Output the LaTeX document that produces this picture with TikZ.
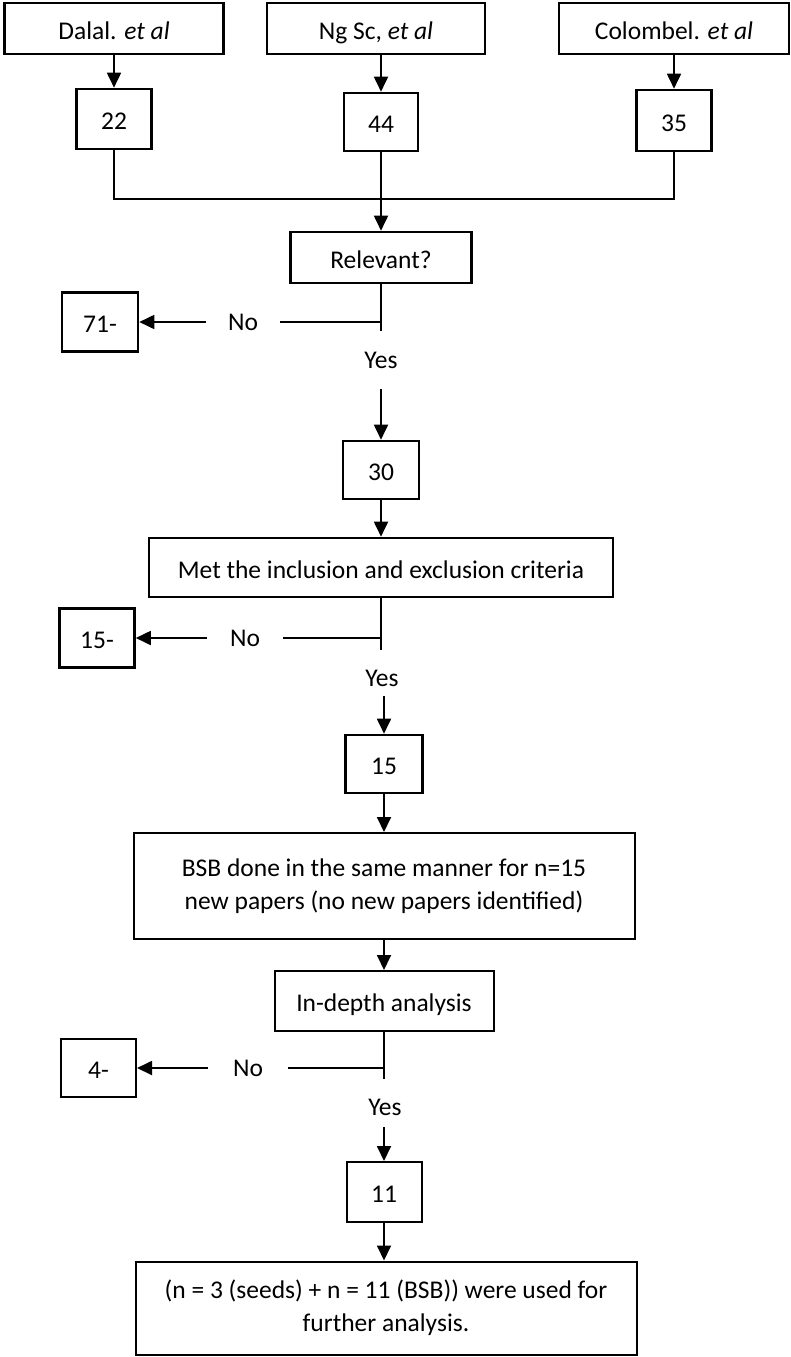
\documentclass[tikz,border=0pt]{standalone}
\usepackage{fontspec}
\setmainfont{Carlito}
\usetikzlibrary{arrows.meta, positioning}

\begin{document}
\begin{tikzpicture}[x=1pt, y=-1pt,
  base/.style={draw, inner sep=0pt, font=\fontsize{25.5}{33}\selectfont, align=center},
  block/.style={base, line width=2.6pt, text height=21pt, text depth=0pt},
  thinblock/.style={block, line width=2pt},
  textblock/.style={base, line width=2pt},
  lbl/.style={font=\fontsize{25.5}{33}\selectfont, inner ysep=0pt},
  arr/.style={-{Triangle[length=15pt, width=14pt]}, line width=1.8pt},
  link/.style={line width=1.3pt},
]
\fill[white] (0,0) rectangle (791,1357);
\useasboundingbox (0,0) rectangle (791,1357);

% Seed papers
\node[block, minimum width=219pt, minimum height=51pt] (dalal) at (114,28.5) {Dalal. \textit{et al}};
\node[block, minimum width=218pt, minimum height=51pt] (ngsc) at (376,28.5) {Ng Sc, \textit{et al}};
\node[block, minimum width=230pt, minimum height=51pt] (colombel) at (674,28.5) {Colombel. \textit{et al}};

\node[block, minimum width=75pt, minimum height=60pt] (n22) at (114,119) {22};
\node[block, minimum width=74pt, minimum height=58pt] (n44) at (381,122) {44};
\node[block, minimum width=75pt, minimum height=61pt] (n35) at (674,120.5) {35};

\draw[arr] (dalal.south) -- (n22.north);
\draw[arr] (n44.north |- ngsc.south) -- (n44.north);
\draw[arr] (colombel.south) -- (n35.north);

\coordinate (join) at (381,199);
\draw[link] (n22.south) |- (join) -| (n35.south);

% First screening
\node[block, minimum width=181pt, minimum height=51pt] (relevant) at (381,257.5) {Relevant?};
\draw[arr] (n44.south) -- (relevant.north);

\node[block, minimum width=76pt, minimum height=59pt] (out71) at (100,322) {71-};
\node[lbl, inner xsep=22pt] (no1) at (243,322) {No};
\coordinate (stub1) at (381,331);
\draw[link] (relevant.south) -- (stub1);
\draw[link] (no1.east) -- (no1.east -| relevant.south);
\draw[arr] (no1.west) -- (out71.east);

\node[lbl] (yes1) at (381,360) {Yes};
\coordinate (go1) at (381,389);
\node[block, minimum width=76pt, minimum height=58pt] (n30) at (381,470) {30};
\draw[arr] (go1) -- (n30.north);

% Criteria
\node[block, minimum width=464pt, minimum height=59pt] (criteria) at (381,567.5) {Met the inclusion and exclusion criteria};
\draw[arr] (n30.south) -- (criteria.north);

\node[block, minimum width=75pt, minimum height=59pt] (out15) at (97,638) {15-};
\node[lbl, inner xsep=23pt] (no2) at (245,638) {No};
\coordinate (stub2) at (381,650);
\draw[link] (criteria.south) -- (stub2);
\draw[link] (no2.east) -- (no2.east -| criteria.south);
\draw[arr] (no2.west) -- (out15.east);

\node[lbl] (yes2) at (382,678) {Yes};
\coordinate (go2) at (384,696);
\node[block, minimum width=77pt, minimum height=58pt] (n15) at (384,764) {15};
\draw[arr] (go2) -- (n15.north);

% BSB round
\node[textblock, minimum width=501pt, minimum height=106pt] (bsb) at (384,886) {BSB done in the same manner for n=15\\new papers (no new papers identified)};
\draw[arr] (n15.south) -- (bsb.north);

\node[thinblock, minimum width=219pt, minimum height=60pt] (indepth) at (384,1001) {In-depth analysis};
\draw[arr] (bsb.south) -- (indepth.north);

\node[thinblock, minimum width=75pt, minimum height=58pt] (out4) at (98.5,1068) {4-};
\node[lbl, inner xsep=25pt] (no3) at (248,1068) {No};
\coordinate (stub3) at (384,1079);
\draw[link] (indepth.south) -- (stub3);
\draw[link] (no3.east) -- (no3.east -| indepth.south);
\draw[arr] (no3.west) -- (out4.east);

\node[lbl] (yes3) at (385,1107) {Yes};
\coordinate (go3) at (384,1127);
\node[thinblock, minimum width=75pt, minimum height=60pt] (n11) at (384,1192) {11};
\draw[arr] (go3) -- (n11.north);

\node[textblock, minimum width=501pt, minimum height=93pt] (final) at (386,1308) {(n = 3 (seeds) + n = 11 (BSB)) were used for\\further analysis.};
\draw[arr] (n11.south) -- (n11.south |- final.north);

\end{tikzpicture}
\end{document}
